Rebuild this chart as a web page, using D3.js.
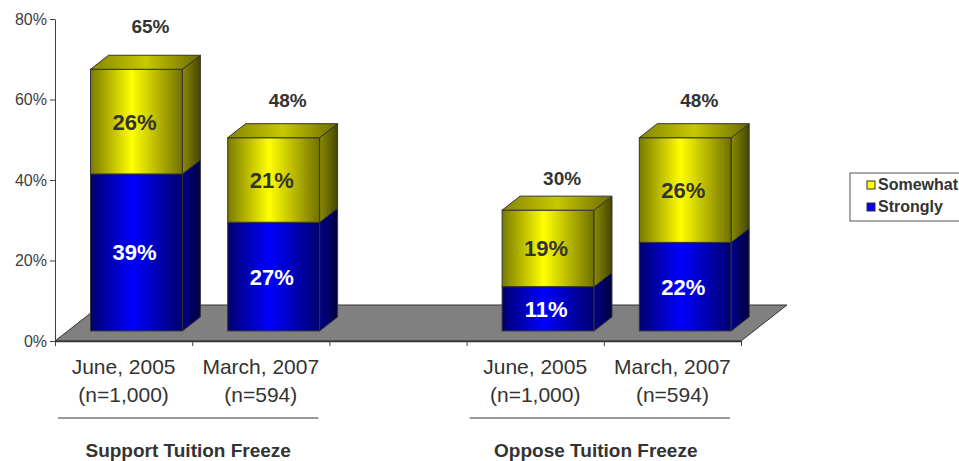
<html>
<head>
	<meta charset='utf-8' />
	<title>Support / Oppose Tuition Freeze</title>
	<script src="https://cdn.jsdelivr.net/npm/d3@7/dist/d3.min.js"></script>
	<style>
	body { margin: 0; background: #ffffff; }
	text { font-family: "Liberation Sans", Arial, sans-serif; }
	</style>
</head>
<body>
<script>

	// data
	var dateLabels = ["June, 2005", "March, 2007", "", "June, 2005", "March, 2007"];
	var sampleLabels = ["(n=1,000)", "(n=594)", "", "(n=1,000)", "(n=594)"];
	var strongly = [39, 27, null, 11, 22];
	var somewhat = [26, 21, null, 19, 26];
	var totals = [65, 48, null, 30, 48];
	var groupLabels = ["Support Tuition Freeze", "Oppose Tuition Freeze"];
	var groupSlots = [[0, 1], [3, 4]];
	var legendLabels = ["Somewhat", "Strongly"];
	var yTicks = [0, 20, 40, 60, 80];

	var width = 959, height = 461;

	var svg = d3.select("body").append("svg")
		.attr("width", width)
		.attr("height", height);

	var yScale = d3.scaleLinear().domain([0, 80]).range([341, 19]);
	var xScale = d3.scaleBand().domain(d3.range(dateLabels.length)).range([55, 741]).padding(0);
	var step = xScale.step();
	var barW = step * 0.67;

	// 3d depth of the floor, bars sit between f0 and f1 of it
	var depth = {dx: 46, dy: -36};
	var f0 = 0.28, f1 = 0.67;

	var pt = function(x, v, f) {
		return [x + f * depth.dx, yScale(v) + f * depth.dy];
	};
	var poly = function(pts) { return pts.map(p => p.join(",")).join(" "); };

	// gradients
	var defs = svg.append("defs");
	var grad = function(id, stops) {
		var g = defs.append("linearGradient").attr("id", id)
			.attr("x1", "0").attr("x2", "1").attr("y1", "0").attr("y2", "0");
		stops.forEach(function(s) {
			g.append("stop").attr("offset", s[0]).attr("stop-color", s[1]);
		});
	};
	grad("yFront", [[0, "#7a7a00"], [0.45, "#ffff00"], [1, "#707000"]]);
	grad("ySide", [[0, "#8a8a00"], [1, "#454500"]]);
	grad("yTop", [[0, "#858500"], [0.5, "#c8c800"], [1, "#6a6a00"]]);
	grad("bFront", [[0, "#000070"], [0.45, "#0000ff"], [1, "#00006c"]]);
	grad("bSide", [[0, "#00008a"], [1, "#000040"]]);
	grad("bTop", [[0, "#000090"], [0.5, "#0000c8"], [1, "#000070"]]);

	var fills = {
		strongly: {front: "url(#bFront)", side: "url(#bSide)", top: "url(#bTop)", label: "#ffffff"},
		somewhat: {front: "url(#yFront)", side: "url(#ySide)", top: "url(#yTop)", label: "#333333"}
	};

	// floor
	svg.append("polygon")
		.attr("points", poly([pt(55, 0, 0), pt(741, 0, 0), pt(741, 0, 1), pt(55, 0, 1)]))
		.attr("fill", "#808080")
		.attr("stroke", "#333333")
		.attr("stroke-width", 1);

	// axes
	var yAxis = svg.append("g")
		.attr("transform", "translate(55,0)")
		.call(d3.axisLeft(yScale).tickValues(yTicks).tickSize(5).tickSizeOuter(0).tickFormat(d => d + "%"));
	yAxis.attr("font-family", null).attr("font-size", null);
	yAxis.select(".domain").attr("stroke", "#404040");
	yAxis.selectAll("line").attr("stroke", "#404040");
	yAxis.selectAll("text").attr("fill", "#404040").attr("font-size", "16px").attr("x", -8);

	var edgeScale = d3.scaleLinear().domain([0, dateLabels.length]).range(xScale.range());
	var xAxis = svg.append("g")
		.attr("transform", "translate(0,341)")
		.call(d3.axisBottom(edgeScale).ticks(dateLabels.length).tickSize(5).tickSizeOuter(0).tickFormat(""));
	xAxis.select(".domain").attr("stroke", "#333333").attr("stroke-width", 1.5);
	xAxis.selectAll("line").attr("stroke", "#404040");

	// bars
	var rows = dateLabels.map(function(d, i) {
		return {i: i, strongly: strongly[i], somewhat: somewhat[i]};
	}).filter(d => d.strongly != null);

	var stack = d3.stack().keys(["strongly", "somewhat"]);
	var series = stack(rows);

	rows.forEach(function(row, r) {
		var x0 = xScale(row.i) + (step - barW) / 2;
		var x1 = x0 + barW;
		var g = svg.append("g");
		series.forEach(function(s, k) {
			var v0 = s[r][0], v1 = s[r][1];
			var f = fills[s.key];
			var a = pt(x0, v1, f0), b = pt(x1, v0, f0);
			g.append("rect")
				.attr("x", a[0]).attr("y", a[1])
				.attr("width", b[0] - a[0]).attr("height", b[1] - a[1])
				.attr("fill", f.front).attr("stroke", "#333333");
			g.append("polygon")
				.attr("points", poly([pt(x1, v0, f0), pt(x1, v0, f1), pt(x1, v1, f1), pt(x1, v1, f0)]))
				.attr("fill", f.side).attr("stroke", "#333333");
			if (k == series.length - 1) {
				g.append("polygon")
					.attr("points", poly([pt(x0, v1, f0), pt(x1, v1, f0), pt(x1, v1, f1), pt(x0, v1, f1)]))
					.attr("fill", f.top).attr("stroke", "#333333");
			}
			var c = pt((x0 + x1) / 2, (v0 + v1) / 2, f0);
			g.append("text")
				.attr("x", c[0] - 2)
				.attr("y", c[1])
				.attr("dy", "0.36em")
				.attr("text-anchor", "middle")
				.attr("font-size", "22px")
				.attr("font-weight", "bold")
				.attr("fill", f.label)
				.text(row[s.key] + "%");
		});
		// total above the bar (excel pushes taller bars' labels a bit higher)
		var total = totals[row.i];
		g.append("text")
			.attr("x", (x0 + x1) / 2 + f0 * depth.dx + 14)
			.attr("y", yScale(total * 1.08 + 2) - 24)
			.attr("dy", "0.36em")
			.attr("text-anchor", "middle")
			.attr("font-size", "19px")
			.attr("font-weight", "bold")
			.attr("fill", "#333333")
			.text(total + "%");
	});

	// category labels
	dateLabels.forEach(function(d, i) {
		if (!d) return;
		var cx = xScale(i) + step / 2;
		svg.append("text")
			.attr("x", cx).attr("y", 374)
			.attr("text-anchor", "middle")
			.attr("font-size", "21px")
			.attr("fill", "#333333")
			.text(d);
		svg.append("text")
			.attr("x", cx).attr("y", 402)
			.attr("text-anchor", "middle")
			.attr("font-size", "21px")
			.attr("fill", "#333333")
			.text(sampleLabels[i]);
	});

	// group lines and labels
	groupLabels.forEach(function(label, k) {
		var s = groupSlots[k];
		var lx0 = xScale(s[0]) + 3;
		var lx1 = xScale(s[s.length - 1]) + step - 11;
		svg.append("line")
			.attr("x1", lx0).attr("x2", lx1)
			.attr("y1", 418).attr("y2", 418)
			.attr("stroke", "#333333").attr("stroke-width", 1);
		svg.append("text")
			.attr("x", (lx0 + lx1) / 2 - 4 * k)
			.attr("y", 457)
			.attr("text-anchor", "middle")
			.attr("font-size", "19px")
			.attr("font-weight", "bold")
			.attr("fill", "#333333")
			.text(label);
	});

	// legend
	var legend = svg.append("g").attr("transform", "translate(850,173)");
	legend.append("rect")
		.attr("x", 0).attr("y", 0)
		.attr("width", 130).attr("height", 48)
		.attr("fill", "#ffffff")
		.attr("stroke", "#555555");
	var legendColors = ["#ffff00", "#0000ff"];
	legendLabels.forEach(function(l, k) {
		legend.append("rect")
			.attr("x", 17).attr("y", 8 + k * 22)
			.attr("width", 8).attr("height", 8)
			.attr("fill", legendColors[k])
			.attr("stroke", "#333333");
		legend.append("text")
			.attr("x", 28).attr("y", 17 + k * 22)
			.attr("font-size", "16px")
			.attr("font-weight", "bold")
			.attr("fill", "#333333")
			.text(l);
	});

</script>
</body>
</html>
